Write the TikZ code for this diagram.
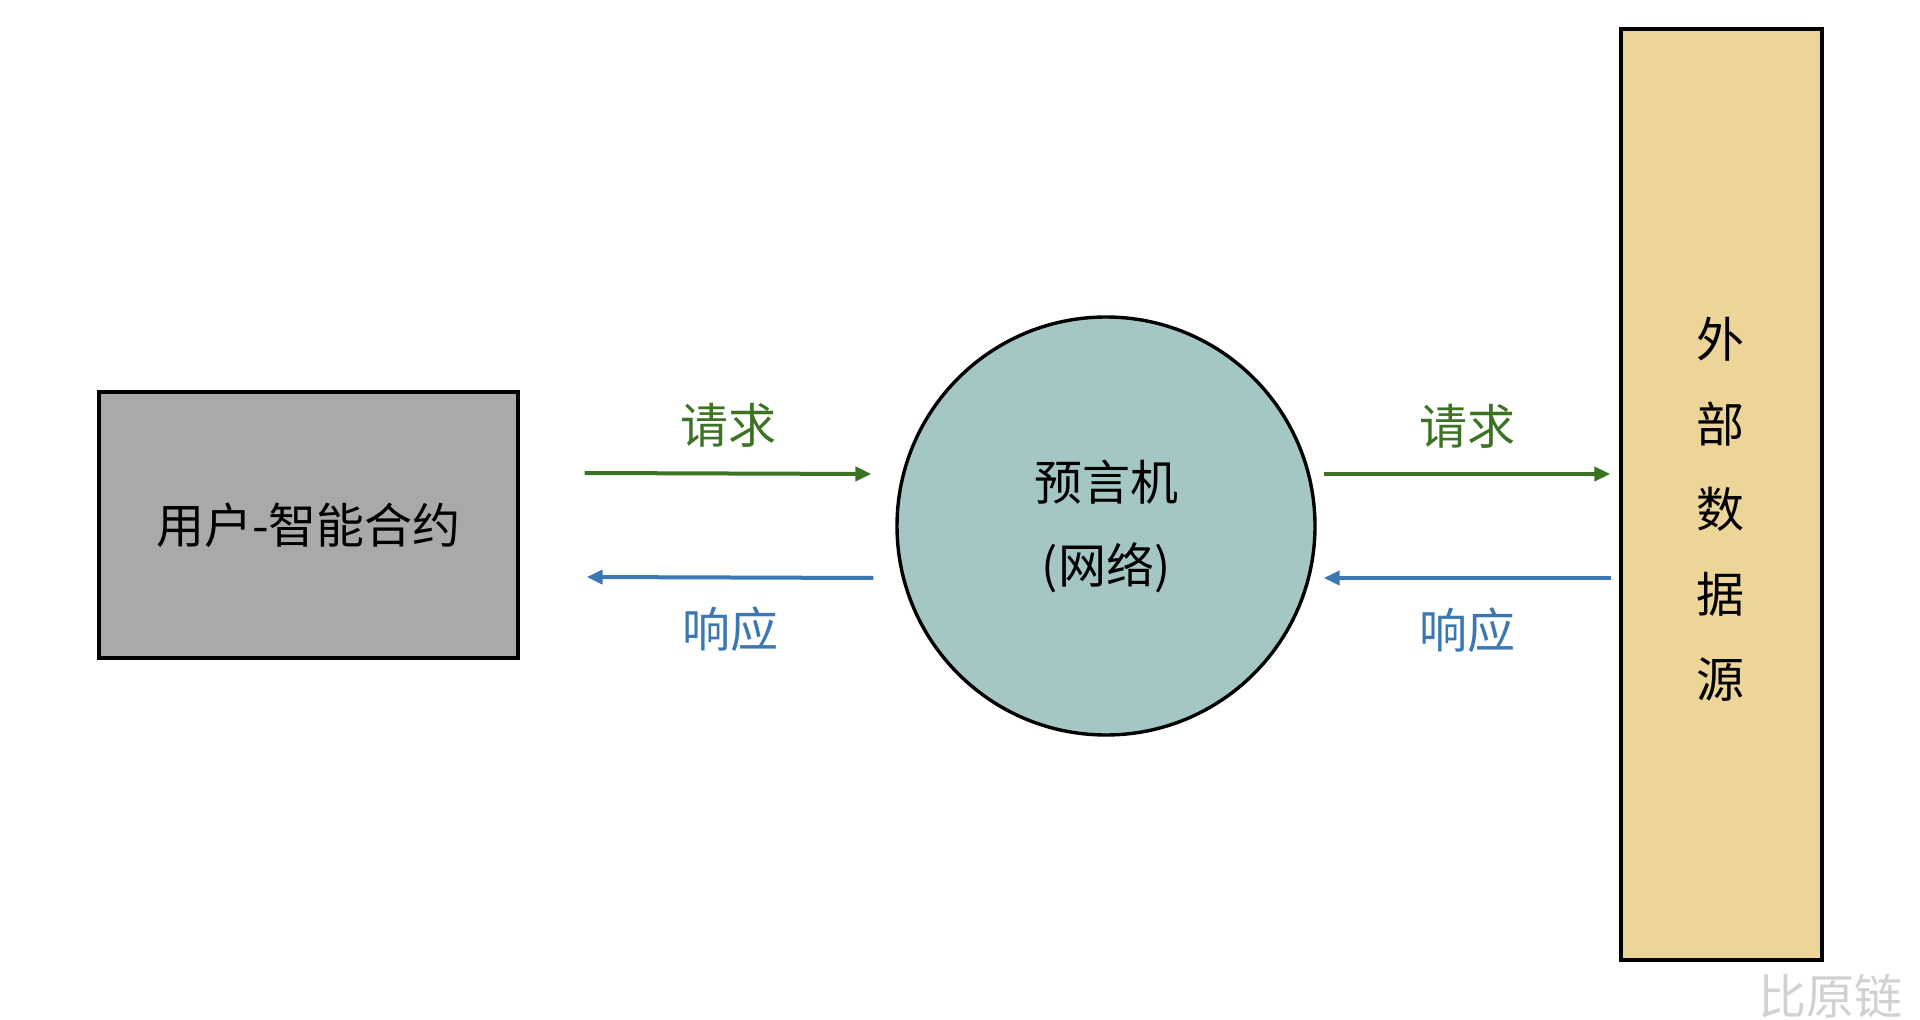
\documentclass[tikz,border=0pt]{standalone}
\usepackage{fontspec}
\setmainfont{Noto Sans CJK SC}
\usetikzlibrary{arrows.meta,calc}
\definecolor{boxgray}{HTML}{A9A9A9}
\definecolor{oraclefill}{HTML}{A4C6C4}
\definecolor{datafill}{HTML}{EDD498}
\definecolor{reqgreen}{HTML}{3B7323}
\definecolor{respblue}{HTML}{3A77B3}
\begin{document}
\begin{tikzpicture}[x=0.5pt,y=-0.5pt,
	every node/.style={font=\fontsize{24}{41.5}\selectfont},
	userbox/.style={draw,line width=1.7pt,fill=boxgray,minimum width=209.5pt,minimum height=133pt},
	oraclenode/.style={circle,draw,line width=1.7pt,fill=oraclefill,minimum size=209pt,align=center},
	databox/.style={draw,line width=1.7pt,fill=datafill,minimum width=100.5pt,minimum height=465.5pt},
	req/.style={reqgreen,line width=2pt,-{Triangle[length=8pt,width=7pt]}},
	resp/.style={respblue,line width=2pt,-{Triangle[length=8pt,width=7pt]}}]
	\useasboundingbox (0,0) rectangle (1920,1020);
	\node[userbox] (user) at (308.5,525) {用户-智能合约};
	\node[oraclenode] (oracle) at (1106,526) {预言机\\(网络)};
	\node[databox] (data) at (1721.5,494.5) {};
	\node[align=center,font=\fontsize{24}{42.5}\selectfont] (datatxt) at (1720,509) {外\\部\\数\\据\\源};
	\draw[req] ($(user.east)+(65,-52)$) -- ($(oracle.west)+(-24,-52)$)
		node[midway,yshift=24pt,text=reqgreen] (reqA) {请求};
	\draw[resp] ($(oracle.west)+(-22,52)$) -- ($(user.east)+(67,52)$)
		node[midway,yshift=-26pt,text=respblue] (respA) {响应};
	\draw[req] ($(oracle.east)+(7,-52)$) -- ($(data.west |- oracle.east)+(-9,-52)$)
		node[midway,yshift=24pt,text=reqgreen] (reqB) {请求};
	\draw[resp] ($(data.west |- oracle.east)+(-8,52)$) -- ($(oracle.east)+(7,52)$)
		node[midway,yshift=-26pt,text=respblue] (respB) {响应};
	\node[text=black!18] (mark) at (1830,996) {比原链};
\end{tikzpicture}
\end{document}
